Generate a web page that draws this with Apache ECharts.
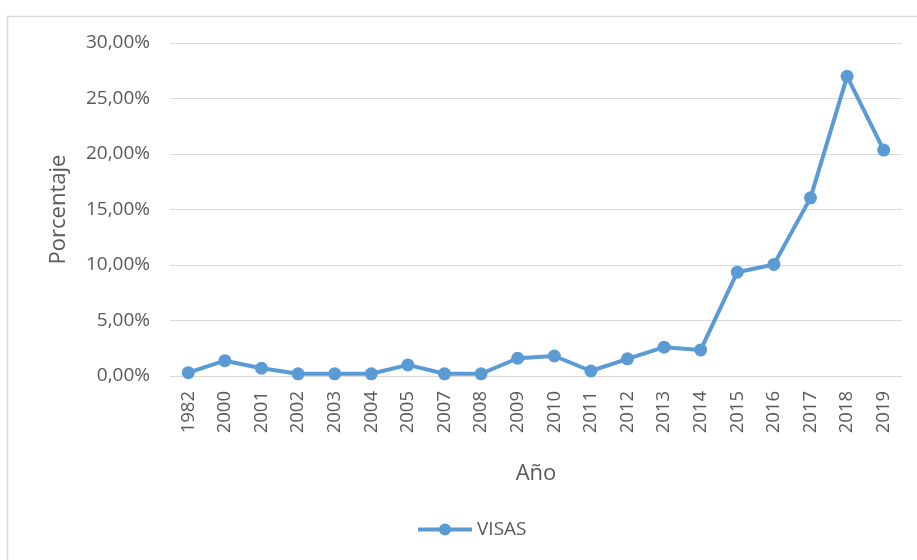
<!DOCTYPE html>
<html>
<head>
<meta charset="utf-8">
<script src="https://cdn.jsdelivr.net/npm/echarts@6/dist/echarts.min.js"></script>
<style>
  html, body { margin: 0; padding: 0; background: #fff; }
  #main { width: 917px; height: 560px; }
</style>
</head>
<body>
<div id="main"></div>
<script>
// años y porcentaje de visas
var years = ['1982', '2000', '2001', '2002', '2003', '2004', '2005', '2007', '2008', '2009',
             '2010', '2011', '2012', '2013', '2014', '2015', '2016', '2017', '2018', '2019'];
var visas = [0.3, 1.38, 0.7, 0.2, 0.2, 0.2, 1.0, 0.2, 0.2, 1.6,
             1.8, 0.45, 1.55, 2.6, 2.35, 9.35, 10.05, 16.05, 27.0, 20.35];
var yTicks = [0, 5, 10, 15, 20, 25, 30];

var myChart = echarts.init(document.getElementById('main'));
var font = '"Open Sans", "Liberation Sans", sans-serif';
var option = {
    backgroundColor: '#fff',
    textStyle: { fontFamily: font },
    graphic: [{
        type: 'rect',
        left: 5, top: 14,
        shape: { width: 930, height: 560 },
        style: { fill: 'none', stroke: '#d9d9d9', lineWidth: 1.5 },
        silent: true
    }],
    grid: { left: 170, right: 15, top: 43, bottom: 184 },
    legend: {
        bottom: 16,
        left: 411,
        itemWidth: 54,
        itemHeight: 15,
        itemGap: 4,
        data: ['VISAS'],
        lineStyle: { width: 4 },
        textStyle: { color: '#595959', fontSize: 19, fontFamily: font }
    },
    xAxis: {
        type: 'category',
        data: years,
        boundaryGap: true,
        name: 'Año',
        nameLocation: 'middle',
        nameGap: 87,
        nameTextStyle: { color: '#595959', fontSize: 22, fontFamily: font },
        axisLine: { show: true, lineStyle: { color: '#d9d9d9' } },
        axisTick: { show: false },
        axisLabel: { rotate: 90, color: '#595959', fontSize: 18.5, margin: 15, fontFamily: font }
    },
    yAxis: {
        type: 'value',
        min: yTicks[0],
        max: yTicks[yTicks.length - 1],
        interval: 5,
        name: 'Porcentaje',
        nameLocation: 'middle',
        nameGap: 100,
        nameTextStyle: { color: '#595959', fontSize: 22, fontFamily: font },
        axisLine: { show: false },
        axisTick: { show: false },
        splitLine: { lineStyle: { color: '#d9d9d9', width: 1 } },
        axisLabel: {
            color: '#595959', fontSize: 19, margin: 20, fontFamily: font,
            formatter: function (v) { return v.toFixed(2).replace('.', ',') + '%'; }
        }
    },
    series: [{
        name: 'VISAS',
        type: 'line',
        data: visas,
        symbol: 'circle',
        symbolSize: 13,
        lineStyle: { color: '#5b9bd5', width: 4 },
        itemStyle: { color: '#5b9bd5' }
    }]
};
myChart.setOption(option);
</script>
</body>
</html>
